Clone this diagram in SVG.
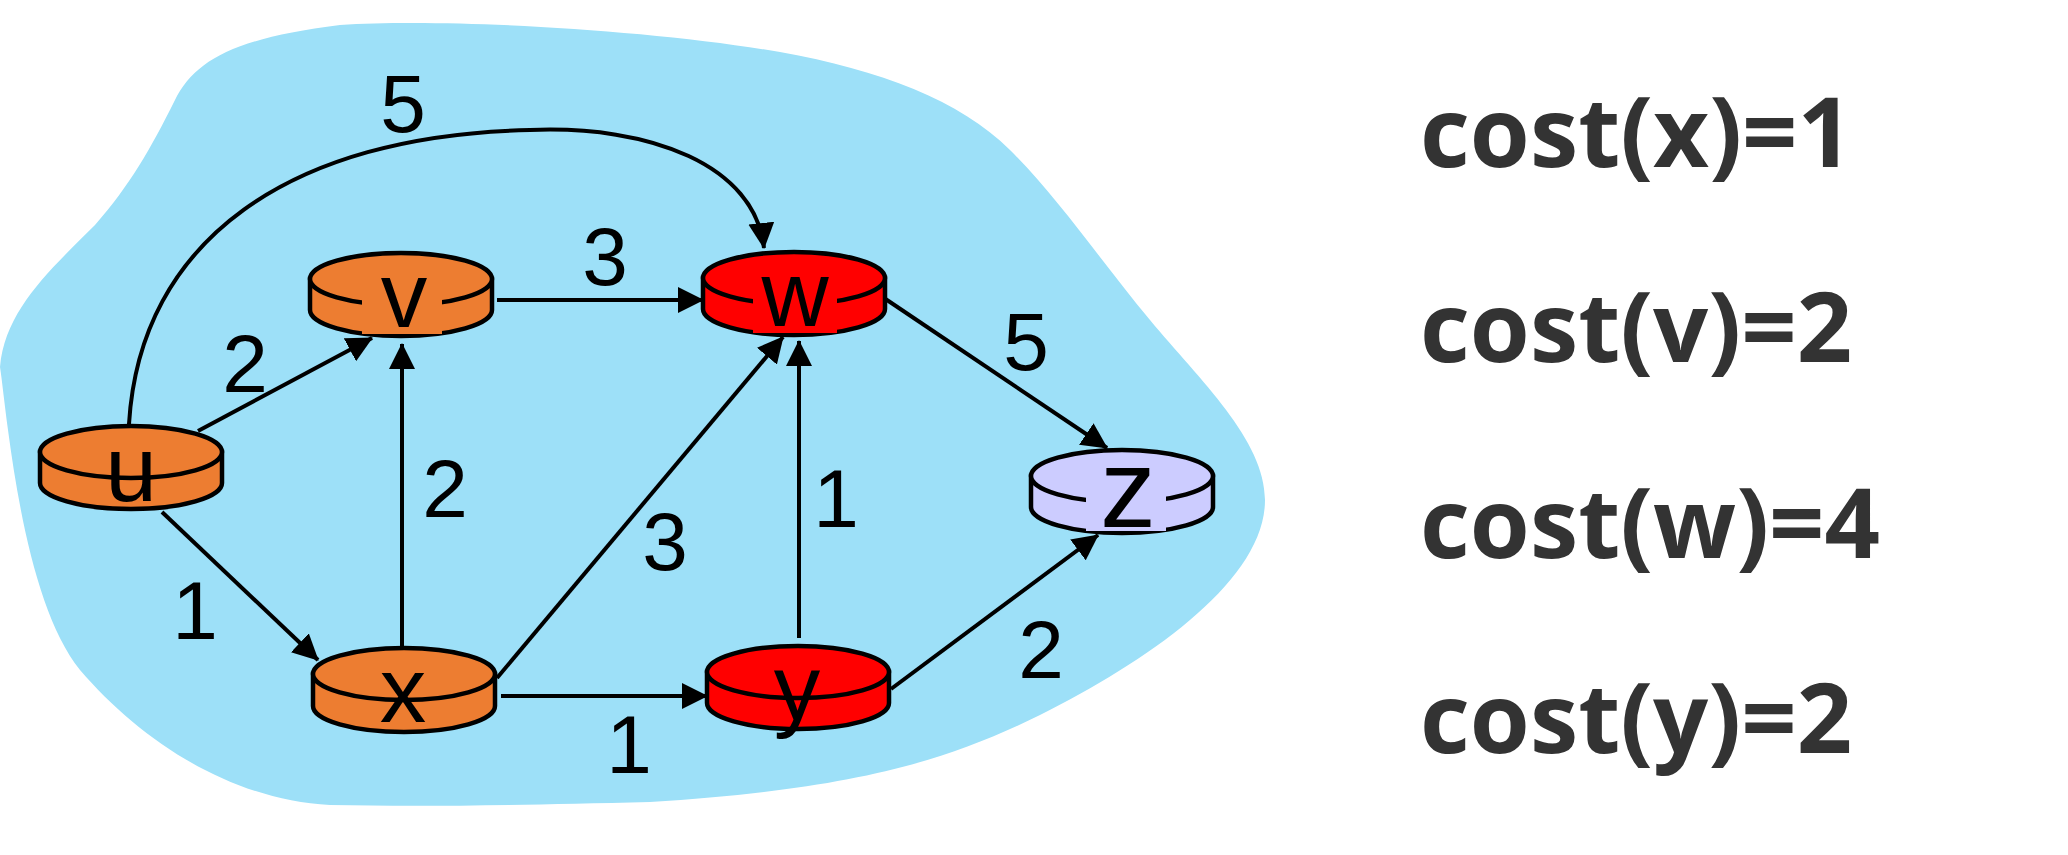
<svg xmlns="http://www.w3.org/2000/svg" width="2068" height="855" viewBox="0 0 2068 855">
<style>
.blob{fill:#9DE0F8;stroke:none}
.edge{fill:none;stroke:#000;stroke-width:4}
.body{stroke:#000;stroke-width:4.5}
.top{stroke:#000;stroke-width:4.5}
.or{fill:#ED7D31}
.rd{fill:#FF0000}
.lv{fill:#CCCCFF}
.nl{font-family:"Liberation Sans",Arial,sans-serif;font-size:93px;fill:#000;text-anchor:middle}
.el{font-family:"Liberation Sans",Arial,sans-serif;font-size:82px;fill:#000;text-anchor:middle}
.cost{font-family:"Open Sans","Noto Sans",sans-serif;font-weight:bold;font-size:97px;fill:#333333}
</style>
<defs>
<marker id="ah" markerUnits="userSpaceOnUse" markerWidth="26" markerHeight="26" viewBox="0 0 26 26" refX="25" refY="13" orient="auto"><path d="M0,0 L26,13 L0,26 Z" fill="#000"/></marker>
</defs>
<rect width="2068" height="855" fill="#fff"/>
<path class="blob" d="M0,367 C5,310 50,270 95,225 C130,185 150,150 175,100 C195,60 235,38 340,25 C450,18 650,30 780,52 C880,70 960,100 1010,150 C1060,200 1100,260 1150,320 C1200,380 1265,440 1265,500 C1265,580 1150,660 1040,715 C940,765 840,790 650,802 C520,805 430,807 330,805 C230,800 140,740 80,670 C40,620 20,520 8,430 C4,400 2,380 0,367 Z"/>

<g id="node-u">
<path class="body or" d="M40,452 L40,483 A91,26 0 0 0 222,483 L222,452 Z"/>
<ellipse class="top or" cx="131" cy="452" rx="91" ry="26"/>
<text class="nl" x="131" y="501">u</text>
</g>
<g id="node-v">
<path class="body or" d="M310,279 L310,310 A91,26 0 0 0 492,310 L492,279 Z"/>
<ellipse class="top or" cx="401" cy="279" rx="91" ry="26"/>
<rect class="or" x="362" y="291" width="80" height="43"/>
<text class="nl" x="404" y="327">v</text>
</g>
<g id="node-w">
<path class="body rd" d="M703,278 L703,309 A91,26 0 0 0 885,309 L885,278 Z"/>
<ellipse class="top rd" cx="794" cy="278" rx="91" ry="26"/>
<rect class="rd" x="753" y="290" width="84" height="43"/>
<text class="nl" x="795" y="326">w</text>
</g>
<g id="node-x">
<path class="body or" d="M313,674 L313,706 A91,26 0 0 0 495,706 L495,674 Z"/>
<ellipse class="top or" cx="404" cy="674" rx="91" ry="26"/>
<text class="nl" x="403" y="722">x</text>
</g>
<g id="node-y">
<path class="body rd" d="M707,672 L707,703 A91,26 0 0 0 889,703 L889,672 Z"/>
<ellipse class="top rd" cx="798" cy="672" rx="91" ry="26"/>
<text class="nl" x="797" y="720">y</text>
</g>
<g id="node-z">
<path class="body lv" d="M1031,476 L1031,507 A91,26 0 0 0 1213,507 L1213,476 Z"/>
<ellipse class="top lv" cx="1122" cy="476" rx="91" ry="26"/>
<rect class="lv" x="1086" y="488" width="80" height="43"/>
<text class="nl" x="1128" y="527" style="font-size:112px">z</text>
</g>

<g id="connectors">
<path class="edge" marker-end="url(#ah)" d="M198,431 L372,338"/>
<path class="edge" marker-end="url(#ah)" d="M402,650 L402,344"/>
<path class="edge" marker-end="url(#ah)" d="M162,512 L318,660"/>
<path class="edge" marker-end="url(#ah)" d="M129,424 C140,240 290,135 530,130 C650,125 755,165 764,248"/>
<path class="edge" marker-end="url(#ah)" d="M497,300 L703,300"/>
<path class="edge" marker-end="url(#ah)" d="M497,678 L783,337"/>
<path class="edge" marker-end="url(#ah)" d="M799,638 L799,341"/>
<path class="edge" marker-end="url(#ah)" d="M501,696 L707,696"/>
<path class="edge" marker-end="url(#ah)" d="M884,298 L1107,448"/>
<path class="edge" marker-end="url(#ah)" d="M891,689 L1098,535"/>
</g>

<g id="edge-labels">
<text class="el" x="403" y="132">5</text>
<text class="el" x="605" y="285">3</text>
<text class="el" x="245" y="392">2</text>
<text class="el" x="445" y="517">2</text>
<text class="el" x="195" y="639">1</text>
<text class="el" x="665" y="570">3</text>
<text class="el" x="836" y="527">1</text>
<text class="el" x="1026" y="370">5</text>
<text class="el" x="1041" y="678">2</text>
<text class="el" x="629" y="773">1</text>
</g>

<g id="costs">
<text class="cost" x="1420" y="167">cost(x)=1</text>
<text class="cost" x="1420" y="362">cost(v)=2</text>
<text class="cost" x="1420" y="558">cost(w)=4</text>
<text class="cost" x="1420" y="753">cost(y)=2</text>
</g>
</svg>
